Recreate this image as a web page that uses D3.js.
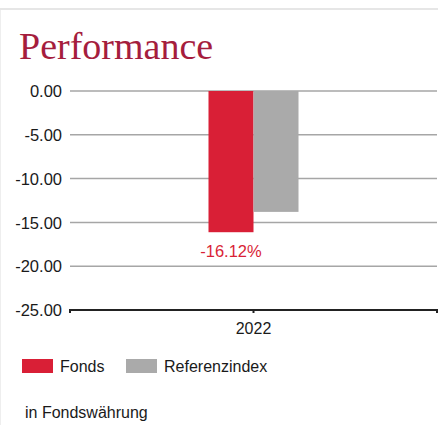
<!DOCTYPE html>
<html>
<head>
<meta charset="utf-8">
<script src="https://cdn.jsdelivr.net/npm/d3@7"></script>
<style>
  body { margin: 0; background: #fff; }
  svg { display: block; }
</style>
</head>
<body>
<div id="chart-area"></div>
<script>
// data
var years = ["2022"];
var seriesNames = ["Fonds", "Referenzindex"];
var fondsValues = [-16.12];
var indexValues = [-13.8];
var yTicks = [0, -5, -10, -15, -20, -25];
var colors = ["#d91f36", "#aaaaaa"];

var W = 438, H = 425;
var margin = { left: 70, right: 1, top: 91, bottom: 115 };
var width = W - margin.left - margin.right;
var height = H - margin.top - margin.bottom;
var barW = 45;

var svg = d3.select("#chart-area").append("svg")
    .attr("width", W)
    .attr("height", H);

// card borders
svg.append("rect").attr("x", 0).attr("y", 8).attr("width", W).attr("height", 2).attr("fill", "#e6e6e6");
svg.append("rect").attr("x", 0).attr("y", 10).attr("width", 1).attr("height", H - 10).attr("fill", "#eeeeee");

svg.append("text")
    .attr("x", 19)
    .attr("y", 59)
    .attr("font-family", "'Liberation Serif', 'DejaVu Serif', serif")
    .attr("font-size", "38px")
    .attr("fill", "#a51d3d")
    .text("Performance");

var g = svg.append("g")
    .attr("transform", "translate(" + margin.left + "," + margin.top + ")");

var y = d3.scaleLinear().domain([0, -25]).range([0, height]);

var x = d3.scaleBand().domain(years).range([0, width]);
var x1 = d3.scaleBand().domain(seriesNames)
    .range([x.bandwidth() / 2 - barW, x.bandwidth() / 2 + barW]);

var fmt = function (d) { return d.toFixed(2); };

// gridlines
g.selectAll(".grid").data(yTicks.slice(0, -1)).enter().append("line")
    .attr("x1", 0).attr("x2", width)
    .attr("y1", function (d) { return y(d); })
    .attr("y2", function (d) { return y(d); })
    .attr("stroke", "#a6a6a6")
    .attr("stroke-width", 1.5);

// y axis labels
var yAxis = d3.axisLeft(y).tickValues(yTicks).tickSize(0).tickPadding(8)
    .tickFormat(fmt);
var yAxisG = g.append("g").call(yAxis);
yAxisG.select(".domain").remove();
yAxisG.selectAll("text")
    .attr("font-family", "'Liberation Sans', Arial, sans-serif")
    .attr("font-size", "16.5px")
    .attr("fill", "#1a1a1a")
    .attr("dy", "0.35em");

// bars
var rows = years.map(function (yr, i) {
    return { year: yr, vals: [{ k: seriesNames[0], v: fondsValues[i] }, { k: seriesNames[1], v: indexValues[i] }] };
});
var grp = g.selectAll(".grp").data(rows).enter().append("g")
    .attr("transform", function (d) { return "translate(" + x(d.year) + ",0)"; });
grp.selectAll("rect").data(function (d) { return d.vals; }).enter().append("rect")
    .attr("x", function (d) { return x1(d.k); })
    .attr("width", x1.bandwidth())
    .attr("y", y(0))
    .attr("height", function (d) { return y(d.v) - y(0); })
    .attr("fill", function (d, i) { return colors[i]; });

// value label under Fonds bar
grp.append("text")
    .attr("x", function (d) { return x1(seriesNames[0]) + x1.bandwidth() / 2; })
    .attr("y", function (d) { return y(d.vals[0].v) + 25; })
    .attr("text-anchor", "middle")
    .attr("font-family", "'Liberation Sans', Arial, sans-serif")
    .attr("font-size", "16.5px")
    .attr("fill", "#d91f36")
    .text(function (d) { return fmt(d.vals[0].v) + "%"; });

// x axis at bottom
var xAxisG = g.append("g").attr("transform", "translate(0," + height + ")");
xAxisG.append("line").attr("x1", 0).attr("x2", width).attr("y1", 0).attr("y2", 0)
    .attr("stroke", "#222").attr("stroke-width", 2);
[0, width / 2, width].forEach(function (px) {
    xAxisG.append("line").attr("x1", px).attr("x2", px).attr("y1", -1).attr("y2", 3)
        .attr("stroke", "#222").attr("stroke-width", 2);
});
xAxisG.selectAll(".lbl").data(years).enter().append("text")
    .attr("x", function (d) { return x(d) + x.bandwidth() / 2; })
    .attr("y", 24)
    .attr("text-anchor", "middle")
    .attr("font-family", "'Liberation Sans', Arial, sans-serif")
    .attr("font-size", "16px")
    .attr("fill", "#1a1a1a")
    .text(function (d) { return d; });

// legend
var legX = [22, 126];
var leg = svg.selectAll(".leg").data(seriesNames).enter().append("g")
    .attr("transform", function (d, i) { return "translate(" + legX[i] + ",359)"; });
leg.append("rect").attr("width", 31).attr("height", 14)
    .attr("fill", function (d, i) { return colors[i]; });
leg.append("text").attr("x", 38).attr("y", 13)
    .attr("font-family", "'Liberation Sans', Arial, sans-serif")
    .attr("font-size", "16px")
    .attr("fill", "#1a1a1a")
    .text(function (d) { return d; });

svg.append("text")
    .attr("x", 25).attr("y", 418)
    .attr("font-family", "'Liberation Sans', Arial, sans-serif")
    .attr("font-size", "16px")
    .attr("fill", "#1a1a1a")
    .text("in Fondswährung");
</script>
</body>
</html>
